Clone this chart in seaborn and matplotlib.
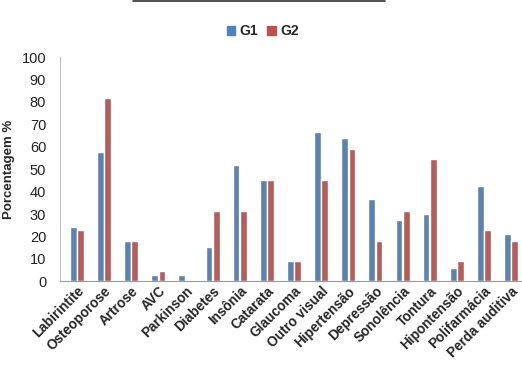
import pandas as pd
import matplotlib.pyplot as plt
import seaborn as sns
from matplotlib.lines import Line2D

categorias = ["Labirintite", "Osteoporose", "Artrose", "AVC", "Parkinson", "Diabetes",
              "Insônia", "Catarata", "Glaucoma", "Outro visual", "Hipertensão", "Depressão",
              "Sonolência", "Tontura", "Hipontensão", "Polifarmácia", "Perda auditiva"]
g1 = [24.2, 57.7, 18.1, 2.8, 2.8, 15.2, 51.7, 45.3, 9.2, 66.7, 63.7, 36.6, 27.5, 30.2, 6.1, 42.6, 21.2]
g2 = [22.9, 81.7, 18.1, 4.6, 0.0, 31.5, 31.5, 45.3, 9.2, 45.3, 59.1, 18.1, 31.5, 54.4, 9.2, 22.9, 18.1]
grupos = ["G1", "G2"]
cores = ["#4F81BD", "#C0504D"]

df = pd.DataFrame({
    "cat": categorias * 2,
    "val": g1 + g2,
    "grupo": ["G1"] * len(g1) + ["G2"] * len(g2),
})

sns.set_style("white")
plt.rcParams["font.family"] = ["Liberation Sans", "DejaVu Sans"]

fig = plt.figure(figsize=(5.22, 3.88), dpi=100)
ax = fig.add_axes([0.115, 0.275, 0.885, 0.578])

sns.barplot(data=df, x="cat", y="val", hue="grupo", palette=cores,
            width=0.54, gap=0.08, ax=ax, legend=False)

ax.set_ylim(0, 100)
ax.set_xlim(-0.62, 16.4)
ax.set_yticks(range(0, 101, 10))
ax.tick_params(axis="y", length=0, labelsize=10.5, pad=10, labelcolor="#222222")
ax.tick_params(axis="x", length=0, pad=2)
ax.set_xticks(range(len(categorias)))
ax.set_xticklabels(categorias, rotation=45, ha="right", rotation_mode="anchor",
                   fontsize=9.8, fontweight="bold")
ax.set_xlabel("")
ax.set_ylabel("Porcentagem %", fontsize=9.5, fontweight="bold")
ax.yaxis.set_label_coords(-0.098, 0.5)
for s in ["top", "right"]:
    ax.spines[s].set_visible(False)
ax.spines["left"].set_color("#BFBFBF")
ax.spines["bottom"].set_color("#9A9A9A")

handles = [plt.Rectangle((0, 0), 1, 1, color=c) for c in cores]
fig.legend(handles, grupos, loc="center", bbox_to_anchor=(0.503, 0.92), ncol=2,
           frameon=False, handlelength=0.6, handleheight=0.6, handletextpad=0.3,
           columnspacing=0.7, prop={"weight": "bold", "size": 10})

fig.add_artist(Line2D([0.255, 0.738], [0.997, 0.997], color="#333333", lw=1.2))

fig.savefig("out.png", dpi=100)
